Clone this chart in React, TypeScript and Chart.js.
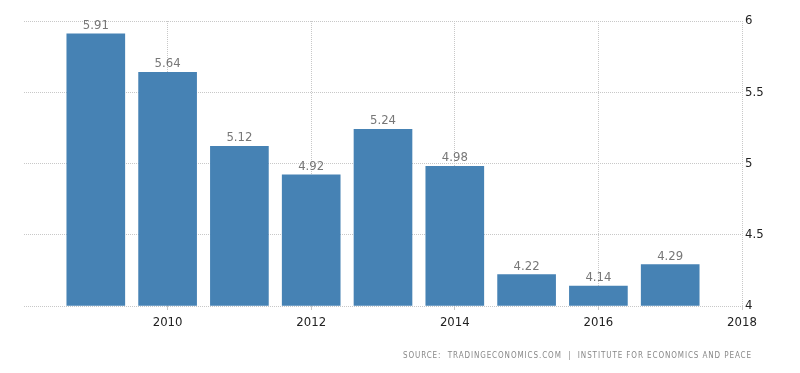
import React, { useEffect, useRef } from "react";
import { Chart, registerables } from "chart.js";

Chart.register(...registerables);

const years = [2009, 2010, 2011, 2012, 2013, 2014, 2015, 2016, 2017];
const values = [5.91, 5.64, 5.12, 4.92, 5.24, 4.98, 4.22, 4.14, 4.29];
const xTickYears = [2010, 2012, 2014, 2016, 2018];
const yTickValues = [4, 4.5, 5, 5.5, 6];
const sourceText = "SOURCE:  TRADINGECONOMICS.COM  |  INSTITUTE FOR ECONOMICS AND PEACE";

const FONT = "'DejaVu Sans Condensed', 'DejaVu Sans', sans-serif";

const valueLabels = {
  id: "valueLabels",
  afterDatasetsDraw(chart: any) {
    const ctx = chart.ctx;
    const meta = chart.getDatasetMeta(0);
    ctx.save();
    ctx.font = `13px ${FONT}`;
    ctx.fillStyle = "#777777";
    ctx.textAlign = "center";
    ctx.textBaseline = "alphabetic";
    meta.data.forEach((bar: any, i: number) => {
      ctx.fillText(values[i].toFixed(2), bar.x, bar.y - 5);
    });
    ctx.restore();
  },
};

export default function App() {
  const ref = useRef<HTMLCanvasElement>(null);
  useEffect(() => {
    document.body.style.margin = "0";
    const chart = new Chart(ref.current as HTMLCanvasElement, {
      type: "bar",
      data: {
        datasets: [
          {
            data: years.map((y, i) => ({ x: y, y: values[i] })),
            backgroundColor: "#4682B4",
            barThickness: 58,
            base: 4,
          } as any,
        ],
      },
      options: {
        responsive: false,
        animation: false,
        layout: { padding: { left: 24, top: 21, right: 0, bottom: 0 } },
        plugins: { legend: { display: false }, tooltip: { enabled: false } },
        scales: {
          x: {
            type: "linear",
            min: 2008,
            max: 2018,
            offset: false,
            afterBuildTicks: (scale: any) => {
              scale.ticks = xTickYears.map((v) => ({ value: v }));
            },
            afterFit: (scale: any) => {
              scale.height = 67;
            },
            ticks: {
              autoSkip: false,
              padding: 5,
              maxRotation: 0,
              color: "#222222",
              font: { family: FONT, size: 13 },
              callback: (v: any) => String(v),
            },
            grid: {
              offset: false,
              color: "#c8c8c8",
              tickColor: "#c8c8c8",
              tickLength: 4,
            } as any,
            border: { display: false, dash: [1, 1] },
          } as any,
          y: {
            position: "right",
            min: 4,
            max: 6,
            afterBuildTicks: (scale: any) => {
              scale.ticks = yTickValues.map((v) => ({ value: v }));
            },
            afterFit: (scale: any) => {
              scale.width = 58;
            },
            ticks: {
              padding: 3,
              color: "#222222",
              font: { family: FONT, size: 13 },
              callback: (v: any) => String(v),
            },
            grid: { color: "#c8c8c8", drawTicks: false },
            border: { display: false, dash: [1, 1] },
          } as any,
        },
      },
      plugins: [valueLabels],
    });
    return () => chart.destroy();
  }, []);
  return (
    <div style={{ position: "relative", width: 800, height: 373, background: "#fff" }}>
      <canvas ref={ref} width={800} height={373} />
      <div
        style={{
          position: "absolute",
          right: 48,
          top: 351,
          fontFamily: FONT,
          fontSize: 8,
          letterSpacing: "0.9px",
          color: "#888888",
          whiteSpace: "pre",
          lineHeight: "10px",
        }}
      >
        {sourceText}
      </div>
    </div>
  );
}
